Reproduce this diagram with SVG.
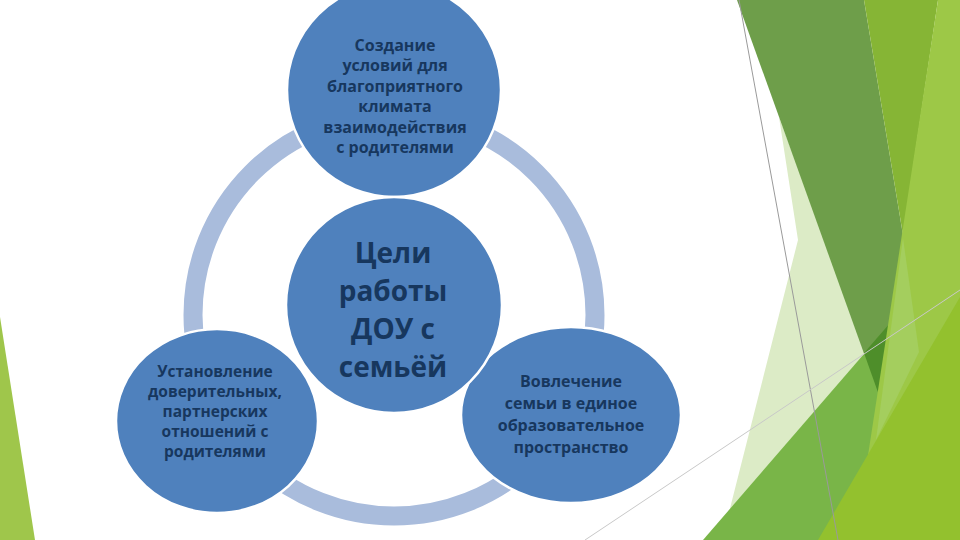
<svg xmlns="http://www.w3.org/2000/svg" width="960" height="540" viewBox="0 0 960 540">
<style>
.node{fill:#4f81bd;stroke:#ffffff;stroke-width:2.5}
.t{font-family:"Open Sans","Liberation Sans",sans-serif;font-weight:bold;fill:#17375e;text-anchor:middle}
.s{font-size:16px}
.sl{font-size:15.5px}
.b{font-size:28px}
.gl{fill:none;stroke-width:1}
</style>
<rect width="960" height="540" fill="#ffffff"/>
<g id="background">
<polygon points="0,317 0,540 35,540" fill="#9fc64b"/>
<polygon points="779,117 798,240 722,540 830,540 885,400" fill="#dcebc6"/>
<polygon points="737,0 864,0 903,235 880,398" fill="#6e9e4a"/>
<polygon points="864,0 938,0 903,235" fill="#86b535"/>
<polygon points="703,540 960,243 960,540" fill="#79b548"/>
<polygon points="864,353 890.7,322.3 880,398" fill="#4e8e2a"/>
<polygon points="938,0 960,0 960,540 855,540" fill="#9dc847"/>
<polygon points="903,238 919,352 876,440" fill="#a4ce5e"/>
<polygon points="818,540 960,297 960,540" fill="#93c12e"/>
<line class="gl" x1="739" y1="0" x2="838" y2="540" stroke="#9a9a9a"/>
<line class="gl" x1="585" y1="540" x2="960" y2="290" stroke="#c8c8c8"/>
</g>
<g id="connectors">
<circle cx="394" cy="315" r="201" fill="none" stroke="#a9bcdc" stroke-width="19"/>
</g>
<g id="node-top">
<circle class="node" cx="394" cy="90" r="107"/>
<text class="t s"><tspan x="395" y="50.5">Создание</tspan><tspan x="395" y="71">условий для</tspan><tspan x="395" y="91.6">благоприятного</tspan><tspan x="395" y="112.2">климата</tspan><tspan x="395" y="132.8">взаимодействия</tspan><tspan x="395" y="153.4">с родителями</tspan></text>
</g>
<g id="node-left">
<ellipse class="node" cx="217" cy="421" rx="101" ry="92"/>
<text class="t sl"><tspan x="215" y="377">Установление</tspan><tspan x="215" y="397">доверительных,</tspan><tspan x="215" y="417">партнерских</tspan><tspan x="215" y="437">отношений с</tspan><tspan x="215" y="457">родителями</tspan></text>
</g>
<g id="node-right">
<ellipse class="node" cx="571" cy="415" rx="110" ry="88"/>
<text class="t s"><tspan x="571" y="387">Вовлечение</tspan><tspan x="571" y="409">семьи в единое</tspan><tspan x="571" y="431">образовательное</tspan><tspan x="571" y="453">пространство</tspan></text>
</g>
<g id="node-center">
<circle class="node" cx="394" cy="305" r="108"/>
<text class="t b"><tspan x="393" y="263">Цели</tspan><tspan x="393" y="301">работы</tspan><tspan x="393" y="339">ДОУ с</tspan><tspan x="393" y="377">семьёй</tspan></text>
</g>
</svg>
